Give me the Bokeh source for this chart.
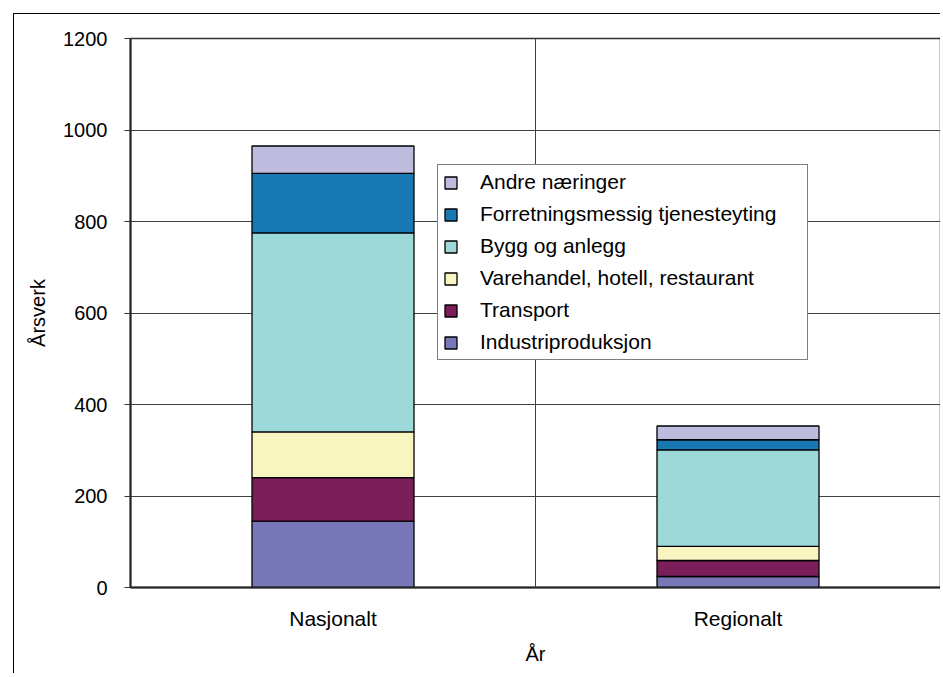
from bokeh.plotting import figure
from bokeh.models import Range1d, FactorRange, FixedTicker, Legend, LegendItem, Span, ColumnDataSource
from bokeh.embed import file_html
from bokeh.resources import INLINE

categories = ["Nasjonalt", "Regionalt"]
series_names = ["Industriproduksjon", "Transport", "Varehandel, hotell, restaurant",
                "Bygg og anlegg", "Forretningsmessig tjenesteyting", "Andre næringer"]
industri = [145, 24]
transport = [95, 35]
varehandel = [100, 31]
bygg = [435, 211]
forretning = [130, 22]
andre = [60, 30]
y_ticks = [0, 200, 400, 600, 800, 1000, 1200]
colors = ["#7878B8", "#7B1F5A", "#F8F5C0", "#9ED9D9", "#1878B4", "#BDBBDE"]

keys = ["industri", "transport", "varehandel", "bygg", "forretning", "andre"]
src = ColumnDataSource(dict(cat=categories, industri=industri, transport=transport,
                            varehandel=varehandel, bygg=bygg, forretning=forretning,
                            andre=andre))

FONT = "Liberation Sans"

p = figure(x_range=FactorRange(*categories), y_range=Range1d(0, 1200),
           width=927, height=660, output_backend="svg", toolbar_location=None,
           min_border_left=116, min_border_top=24, min_border_bottom=87, min_border_right=1,
           margin=(13, 0, 0, 13),
           styles={"border-left": "1px solid black", "border-top": "1px solid black"})
p.x_range.range_padding = 0

renderers = p.vbar_stack(keys, x="cat", width=0.4, source=src, color=colors,
                         line_color="black", line_width=1.3)

# axes
p.yaxis.ticker = FixedTicker(ticks=y_ticks)
p.yaxis.axis_label = "Årsverk"
p.xaxis.axis_label = "År"
for ax in (p.xaxis[0], p.yaxis[0]):
    ax.axis_label_text_font = FONT
    ax.axis_label_text_font_style = "normal"
    ax.axis_label_text_font_size = "20px"
    ax.axis_label_text_color = "black"
    ax.major_label_text_font = FONT
    ax.major_label_text_font_size = "20px"
    ax.major_label_text_color = "black"
    ax.axis_line_color = "#222222"
    ax.axis_line_width = 2
    ax.minor_tick_line_color = None
p.xaxis.major_label_text_font_size = "21px"
p.yaxis.major_tick_out = 6
p.yaxis.major_tick_in = 0
p.yaxis.major_tick_line_color = "#333333"
p.yaxis.major_label_standoff = 17
p.yaxis.axis_label_standoff = 11
p.xaxis.major_tick_line_color = None
p.xaxis.major_label_standoff = 13
p.xaxis.axis_label_standoff = 10

# grid
p.xgrid.grid_line_color = None
p.ygrid.grid_line_color = "#404040"
p.ygrid.grid_line_width = 1
p.add_layout(Span(location=1, dimension="height", line_color="#404040", line_width=1))
p.outline_line_color = "#333333"
p.outline_line_width = 1.5
p.background_fill_color = "white"
p.border_fill_color = "white"

# legend (top entry = top of stack)
items = [LegendItem(label=name, renderers=[r]) for name, r in zip(series_names, renderers)][::-1]
legend = Legend(items=items, location=(307, 227), margin=0, padding=5,
                label_text_font=FONT, label_text_font_size="21px", label_text_color="black",
                glyph_width=15, glyph_height=15, label_standoff=22, label_height=23,
                label_width=322, spacing=8,
                border_line_color="black", border_line_width=1, background_fill_alpha=1)
p.add_layout(legend, "center")

open("out.html", "w").write(file_html(p, INLINE))
